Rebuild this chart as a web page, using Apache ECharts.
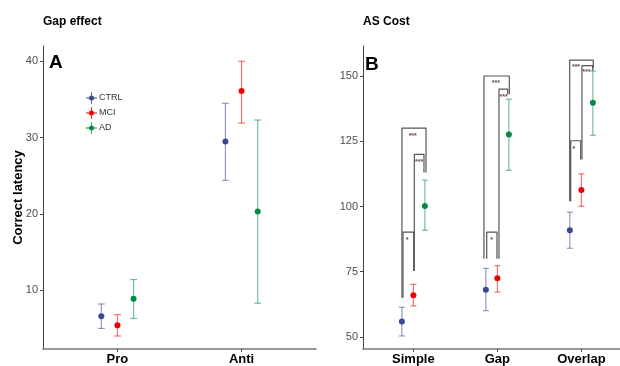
<!DOCTYPE html>
<html style="height: 100%">
<head>
<meta charset="utf-8">
<title>Gap effect / AS Cost</title>
<script src="https://cdn.jsdelivr.net/npm/echarts@6/dist/echarts.min.js"></script>
</head>
<body style="height: 100%; margin: 0; background: #fff">
<div id="container" style="width: 620px; height: 366px"></div>
<script>
// groups and colours
var groups = ['CTRL', 'MCI', 'AD'];
var colors = ['#3B4992', '#EE0000', '#008B45'];

// panel A: Gap effect
var gapCats = ['Pro', 'Anti'];
var gapMean = { CTRL: [6.6, 29.5], MCI: [5.4, 36.1], AD: [8.9, 20.3] };
var gapLo   = { CTRL: [5.0, 24.4], MCI: [4.0, 31.9], AD: [6.3, 8.3] };
var gapHi   = { CTRL: [8.2, 34.5], MCI: [6.8, 40.0], AD: [11.4, 32.3] };
var gapTicks = [10, 20, 30, 40];

// panel B: AS Cost
var costCats = ['Simple', 'Gap', 'Overlap'];
var costMean = { CTRL: [55.9, 68.1, 90.9], MCI: [66.0, 72.5, 106.3], AD: [100.2, 127.6, 139.8] };
var costLo   = { CTRL: [50.4, 60.1, 84.0], MCI: [61.9, 67.2, 100.1], AD: [90.9, 113.9, 127.3] };
var costHi   = { CTRL: [61.4, 76.3, 97.8], MCI: [70.2, 77.3, 112.5], AD: [110.1, 141.1, 151.9] };
var costTicks = [50, 75, 100, 125, 150];

// significance brackets: [x1, yBottomLeft, yTop, x2, yBottomRight]
var brackets = [
  [-0.136, 65, 130, 0.150, 113],
  [0.011, 75.3, 120, 0.126, 113],
  [-0.124, 65, 90.2, 0.004, 75.3],
  [0.840, 80, 150, 1.142, 143],
  [1.019, 80, 145, 1.123, 143],
  [0.873, 80, 90.2, 0.995, 80],
  [1.861, 102, 156.1, 2.142, 153],
  [2.007, 118, 154, 2.135, 152],
  [1.873, 102, 125.2, 1.992, 118]
];
var sigLabels = [
  [-0.008, 127.1, '***'], [0.067, 117, '***'], [-0.076, 87.2, '*'],
  [0.983, 147.2, '***'], [1.075, 142, '***'], [0.932, 87.3, '*'],
  [1.936, 153.3, '***'], [2.060, 151.6, '***'], [1.912, 122, '*']
];

var dodgeA = [-0.13, 0, 0.13];
var dodgeB = [-0.137, 0, 0.137];

function errSeries(name, color, xi, yi, dodge, mean, lo, hi, whisker) {
  var data = [];
  for (var i = 0; i < mean.length; i++) {
    data.push([i + dodge, mean[i], lo[i], hi[i]]);
  }
  return {
    name: name,
    type: 'custom',
    xAxisIndex: xi,
    yAxisIndex: yi,
    itemStyle: { color: color },
    data: data,
    renderItem: function (params, api) {
      var top = api.coord([api.value(0), api.value(3)]);
      var bot = api.coord([api.value(0), api.value(2)]);
      var mid = api.coord([api.value(0), api.value(1)]);
      var ls = { stroke: color, lineWidth: 1.2, opacity: 0.55 };
      return {
        type: 'group',
        children: [
          { type: 'line', shape: { x1: top[0], y1: top[1], x2: bot[0], y2: bot[1] }, style: ls },
          { type: 'line', shape: { x1: top[0] - whisker, y1: top[1], x2: top[0] + whisker, y2: top[1] }, style: ls },
          { type: 'line', shape: { x1: bot[0] - whisker, y1: bot[1], x2: bot[0] + whisker, y2: bot[1] }, style: ls },
          { type: 'circle', shape: { cx: mid[0], cy: mid[1], r: 3 }, style: { fill: color } }
        ]
      };
    }
  };
}

var series = [];
groups.forEach(function (g, k) {
  series.push(errSeries(g, colors[k], 0, 0, dodgeA[k], gapMean[g], gapLo[g], gapHi[g], 3.5));
});
groups.forEach(function (g, k) {
  series.push(errSeries(g, colors[k], 1, 1, dodgeB[k], costMean[g], costLo[g], costHi[g], 3));
});
brackets.forEach(function (b) {
  series.push({
    type: 'line',
    xAxisIndex: 1,
    yAxisIndex: 1,
    symbol: 'none',
    silent: true,
    lineStyle: { color: '#555', width: 1.2 },
    data: [[b[0], b[1]], [b[0], b[2]], [b[3], b[2]], [b[3], b[4]]]
  });
});
series.push({
  type: 'scatter',
  xAxisIndex: 1,
  yAxisIndex: 1,
  symbolSize: 0,
  silent: true,
  data: sigLabels,
  label: {
    show: true,
    position: 'inside',
    formatter: function (p) { return p.data[2]; },
    fontSize: 7,
    fontWeight: 'bold',
    color: '#401010'
  }
});

var textFont = 'Liberation Sans';
function xAx(idx, cats, max) {
  return {
    type: 'value', gridIndex: idx, min: -0.6, max: max,
    splitLine: { show: false },
    axisLine: { onZero: false, lineStyle: { color: '#777', width: 1.5 } },
    axisTick: { show: true, customValues: cats.map(function (c, i) { return i; }), length: 3, lineStyle: { color: '#555' } },
    axisLabel: {
      customValues: cats.map(function (c, i) { return i; }),
      formatter: function (v) { return cats[Math.round(v)]; },
      fontFamily: textFont, fontWeight: 'bold', fontSize: 13, color: '#000', margin: 4
    }
  };
}
function yAx(idx, min, max, ticks) {
  return {
    type: 'value', gridIndex: idx, min: min, max: max,
    splitLine: { show: false },
    axisLine: { show: true, onZero: false, lineStyle: { color: '#444', width: 1 } },
    axisTick: { show: true, customValues: ticks, length: 3, lineStyle: { color: '#444' } },
    axisLabel: { customValues: ticks, fontFamily: textFont, fontSize: 11, color: '#4d4d4d', margin: 5 }
  };
}

var option = {
  animation: false,
  textStyle: { fontFamily: textFont },
  title: [
    { text: 'Gap effect', left: 43, top: 16, padding: 0, textStyle: { fontSize: 12, fontWeight: 'bold', color: '#000' } },
    { text: 'AS Cost', left: 363, top: 16, padding: 0, textStyle: { fontSize: 12, fontWeight: 'bold', color: '#000' } },
    { text: 'A', left: 49, top: 53, padding: 0, textStyle: { fontSize: 19, fontWeight: 'bold', color: '#000' } },
    { text: 'B', left: 365, top: 55, padding: 0, textStyle: { fontSize: 19, fontWeight: 'bold', color: '#000' } }
  ],
  legend: {
    data: groups,
    orient: 'vertical',
    left: 81,
    top: 87,
    itemGap: 3,
    itemWidth: 13,
    itemHeight: 12,
    icon: 'path://M0,5.6h11v0.8h-11z M5.1,0h0.8v12h-0.8z M8,6a2.5,2.5 0 1,1 -5,0a2.5,2.5 0 1,1 5,0z',
    textStyle: { fontSize: 9, color: '#333', padding: [0, 0, 0, -4] }
  },
  grid: [
    { left: 43, top: 46, width: 273, height: 303 },
    { left: 363, top: 46, width: 257, height: 303 }
  ],
  xAxis: [xAx(0, gapCats, 1.6), xAx(1, costCats, 2.46)],
  yAxis: [
    Object.assign(yAx(0, 2.3, 42, gapTicks), {
      name: 'Correct latency', nameLocation: 'middle', nameGap: 18, nameMoveOverlap: false,
      nameTextStyle: { fontSize: 13, fontWeight: 'bold', color: '#000' }
    }),
    yAx(1, 45.4, 161.5, costTicks)
  ],
  series: series
};

var myChart = echarts.init(document.getElementById('container'));
myChart.setOption(option);
</script>
</body>
</html>
